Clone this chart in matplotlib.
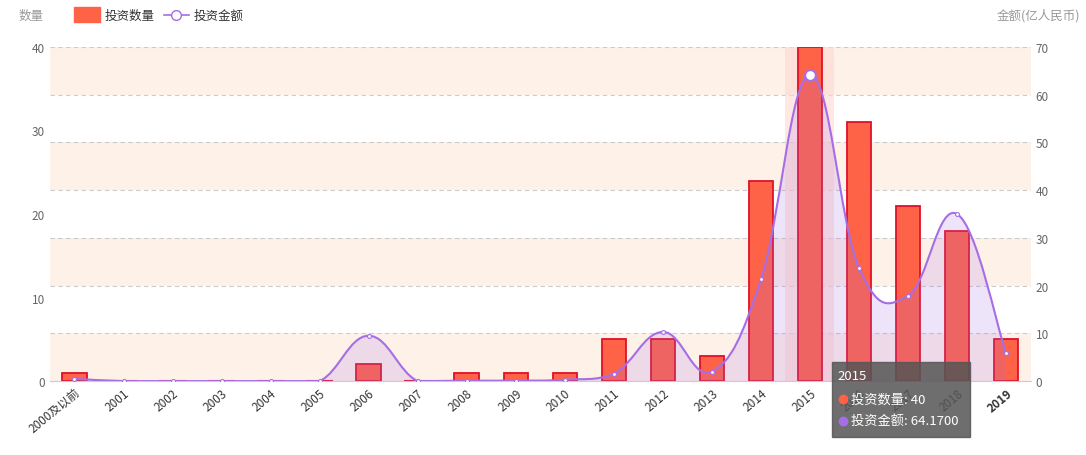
import numpy as np
import matplotlib.pyplot as plt
from matplotlib.path import Path
from matplotlib.patches import PathPatch

plt.rcParams['font.family'] = ['Noto Sans CJK SC', 'DejaVu Sans']

years = ['2000及以前', '2001', '2002', '2003', '2004', '2005', '2006', '2007', '2008', '2009',
         '2010', '2011', '2012', '2013', '2014', '2015', '2016', '2017', '2018', '2019']
counts = [1, 0, 0, 0, 0, 0, 2, 0, 1, 1, 1, 5, 5, 3, 24, 40, 31, 21, 18, 5]
amounts = [0.5, 0, 0, 0, 0, 0, 9.5, 0, 0.1, 0.1, 0.3, 1.5, 10.3, 2.0, 21.3, 64.17, 23.7, 17.9, 35.0, 5.8]

bar_color = '#ff6347'
line_color = '#a66ee6'

fig = plt.figure(figsize=(10.86, 4.56), dpi=100)
ax = fig.add_axes([0.046, 0.162, 0.903, 0.733])
ax2 = ax.twinx()
ax.set_zorder(ax2.get_zorder() - 1)
ax2.patch.set_visible(False)

x = np.arange(len(years))
ax.set_xlim(-0.5, len(years) - 0.5)
ax.set_ylim(0, 40)
ax2.set_ylim(0, 70)

# background bands and dashed split lines (right axis steps of 10 -> left units)
step = 40 / 7
for i in [0, 2, 4, 6]:
    ax.axhspan(i * step, (i + 1) * step, color='#fdf1e8', zorder=0, lw=0)
for i in range(1, 8):
    ax.axhline(i * step, color='#cccccc', ls=(0, (4, 3)), lw=0.8, zorder=0.5)

# highlight for hovered 2015
ax.bar(15, 40, width=1.0, color='#ffd9d2', alpha=0.6, zorder=1)
ax.bar(x, counts, width=0.5, color=bar_color, edgecolor='#e0102a', lw=1.3, zorder=2)
for xi, c in zip(x, counts):
    if c == 0:
        ax.plot([xi - 0.25, xi + 0.25], [0.05, 0.05], color='#e0102a', lw=1.5, zorder=2)

# smooth line via bezier path
pts = np.column_stack([x, amounts])
verts = [tuple(pts[0])]
codes = [Path.MOVETO]
k = 0.2
for i in range(len(pts) - 1):
    p0 = pts[max(i - 1, 0)]
    p1 = pts[i]
    p2 = pts[i + 1]
    p3 = pts[min(i + 2, len(pts) - 1)]
    c1 = p1 + (p2 - p0) * k
    c2 = p2 - (p3 - p1) * k
    c1[1] = max(c1[1], 0)
    c2[1] = max(c2[1], 0)
    verts += [tuple(c1), tuple(c2), tuple(p2)]
    codes += [Path.CURVE4] * 3
line_path = Path(verts, codes)
fill_verts = verts + [(x[-1], 0), (x[0], 0), verts[0]]
fill_codes = codes + [Path.LINETO, Path.LINETO, Path.CLOSEPOLY]
ax2.add_patch(PathPatch(Path(fill_verts, fill_codes), facecolor=line_color, alpha=0.18, lw=0, zorder=3))
ax2.add_patch(PathPatch(line_path, facecolor='none', edgecolor=line_color, lw=1.5, zorder=4))
ax2.scatter(x, amounts, s=8, facecolor='white', edgecolor=line_color, lw=0.8, zorder=5)
ax2.scatter([15], [amounts[15]], s=60, facecolor='white', edgecolor=line_color, lw=1.5, zorder=6)

for a in (ax, ax2):
    for s in a.spines.values():
        s.set_visible(False)
    a.tick_params(length=0, labelsize=8.5, colors='#666666')
ax.spines['bottom'].set_visible(True)
ax.spines['bottom'].set_color('#cccccc')
ax.set_yticks([0, 10, 20, 30, 40])
ax2.set_yticks(range(0, 71, 10))
ax.set_xticks(x)
ax.set_xticklabels(years, rotation=40, ha='right', rotation_mode='anchor', color='#333333')
ax.get_xticklabels()[-1].set_fontweight('bold')

fig.text(0.017, 0.965, '数量', fontsize=9, color='#999999', va='center')
fig.text(0.995, 0.965, '金额(亿人民币)', fontsize=9, color='#999999', va='center', ha='right')

# legend
fig.patches.append(plt.Rectangle((0.068, 0.95), 0.024, 0.032, transform=fig.transFigure,
                                 color=bar_color, figure=fig))
fig.text(0.096, 0.965, '投资数量', fontsize=9, color='#333333', va='center')
fig.add_artist(plt.Line2D([0.151, 0.174], [0.966, 0.966], color=line_color, lw=1.2, transform=fig.transFigure))
fig.add_artist(plt.Line2D([0.1625], [0.966], marker='o', ms=7, mfc='white', mec=line_color, transform=fig.transFigure))
fig.text(0.178, 0.965, '投资金额', fontsize=9, color='#333333', va='center')

# tooltip
fig.patches.append(plt.Rectangle((0.766, 0.04), 0.127, 0.165, transform=fig.transFigure,
                                 color='#555555', alpha=0.85, figure=fig, zorder=10))
fig.text(0.771, 0.175, '2015', fontsize=9.5, color='white', va='center', zorder=11)
fig.add_artist(plt.Line2D([0.776], [0.123], marker='o', ms=6, color=bar_color, lw=0, transform=fig.transFigure, zorder=11))
fig.text(0.784, 0.123, '投资数量: 40', fontsize=9.5, color='white', va='center', zorder=11)
fig.add_artist(plt.Line2D([0.776], [0.075], marker='o', ms=6, color=line_color, lw=0, transform=fig.transFigure, zorder=11))
fig.text(0.784, 0.075, '投资金额: 64.1700', fontsize=9.5, color='white', va='center', zorder=11)

fig.savefig('out.png', dpi=100)
